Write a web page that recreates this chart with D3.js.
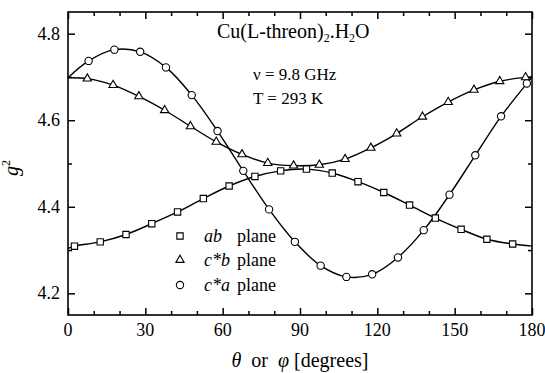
<!DOCTYPE html>
<html lang="en">
<head>
    <meta charset="UTF-8">
    <script src="https://cdn.jsdelivr.net/npm/d3@7"></script>
    <style>
        * { margin: 0; padding: 0; }
        body { background: #fff; }
    </style>
    <title>g2 vs angle</title>
</head>
<body>
    <script>
        // angles (degrees) and g^2 values
        const abAngle = [2.5, 12.5, 22.5, 32.5, 42.5, 52.5, 62.5, 72.5, 82.5, 92.5, 102.5, 112.5, 122.5, 132.5, 142.5, 152.5, 162.5, 172.5];
        const abG2 = [4.309, 4.319, 4.336, 4.361, 4.388, 4.419, 4.448, 4.470, 4.483, 4.487, 4.478, 4.458, 4.433, 4.404, 4.374, 4.348, 4.325, 4.314];

        const cbAngle = [7.5, 17.5, 27.5, 37.5, 47.5, 57.5, 67.5, 77.5, 87.5, 97.5, 107.5, 117.5, 127.5, 137.5, 147.5, 157.5, 167.5, 177.5];
        const cbG2 = [4.696, 4.681, 4.655, 4.623, 4.586, 4.550, 4.521, 4.501, 4.495, 4.497, 4.510, 4.536, 4.569, 4.608, 4.642, 4.670, 4.690, 4.699];

        const caAngle = [8, 18, 28, 38, 48, 58, 68, 78, 88, 98, 108, 118, 128, 138, 148, 158, 168, 178];
        const caG2 = [4.737, 4.763, 4.758, 4.722, 4.658, 4.575, 4.483, 4.394, 4.319, 4.264, 4.238, 4.244, 4.283, 4.346, 4.428, 4.519, 4.609, 4.685];

        // where the fitted curves meet the 0 and 180 degree edges
        const abEnds = [4.304, 4.309];
        const cbEnds = [4.698, 4.700];
        const caEnds = [4.698, 4.700];

        const xTicks = [0, 30, 60, 90, 120, 150, 180];
        const xMinor = [10, 20, 40, 50, 70, 80, 100, 110, 130, 140, 160, 170];
        const yTicks = [4.2, 4.4, 4.6, 4.8];
        const yMinor = [4.3, 4.5, 4.7];

        const width = 545;
        const height = 373;
        const margin = { top: 12, right: 13, bottom: 58, left: 68 };
        const serif = "'Liberation Serif'";

        const x = d3.scaleLinear().domain([0, 180]).range([margin.left, width - margin.right]);
        const y = d3.scaleLinear().domain([4.15, 4.85]).range([height - margin.bottom, margin.top]);

        const svg = d3.select("body").append("svg")
            .attr("width", width)
            .attr("height", height);

        const series = [
            { name: "ab", angle: abAngle, g2: abG2, ends: abEnds, symbol: d3.symbolSquare, size: 40 },
            { name: "cb", angle: cbAngle, g2: cbG2, ends: cbEnds, symbol: d3.symbolTriangle, size: 30 },
            { name: "ca", angle: caAngle, g2: caG2, ends: caEnds, symbol: d3.symbolCircle, size: 42 }
        ];

        const line = d3.line()
            .x(d => x(d[0]))
            .y(d => y(d[1]))
            .curve(d3.curveCatmullRom.alpha(0.5));

        const plot = svg.append("g");

        series.forEach(s => {
            let pts = s.angle.map((a, i) => [a, s.g2[i]]);
            pts = [[0, s.ends[0]]].concat(pts, [[180, s.ends[1]]]);
            plot.append("path")
                .attr("d", line(pts))
                .attr("fill", "none")
                .attr("stroke", "#000")
                .attr("stroke-width", 1.4);
        });

        series.forEach(s => {
            plot.selectAll("path.m-" + s.name)
                .data(s.angle.map((a, i) => [a, s.g2[i]]))
                .enter()
                .append("path")
                .classed("m-" + s.name, true)
                .attr("d", d3.symbol().type(s.symbol).size(s.size))
                .attr("transform", d => `translate(${x(d[0])},${y(d[1])})`)
                .attr("fill", "#fff")
                .attr("stroke", "#000")
                .attr("stroke-width", 1.1);
        });

        // axes: ticks point inward, mirrored on top and right
        const axisB = svg.append("g").attr("transform", `translate(0,${height - margin.bottom})`)
            .call(d3.axisBottom(x).tickValues(xTicks).tickSizeInner(-7).tickSizeOuter(0).tickFormat(""));
        const axisBm = svg.append("g").attr("transform", `translate(0,${height - margin.bottom})`)
            .call(d3.axisBottom(x).tickValues(xMinor).tickSizeInner(-4).tickSizeOuter(0).tickFormat(""));
        const axisT = svg.append("g").attr("transform", `translate(0,${margin.top})`)
            .call(d3.axisTop(x).tickValues(xTicks).tickSizeInner(-7).tickSizeOuter(0).tickFormat(""));
        const axisTm = svg.append("g").attr("transform", `translate(0,${margin.top})`)
            .call(d3.axisTop(x).tickValues(xMinor).tickSizeInner(-4).tickSizeOuter(0).tickFormat(""));
        const axisL = svg.append("g").attr("transform", `translate(${margin.left},0)`)
            .call(d3.axisLeft(y).tickValues(yTicks).tickSizeInner(-7).tickSizeOuter(0).tickFormat(""));
        const axisLm = svg.append("g").attr("transform", `translate(${margin.left},0)`)
            .call(d3.axisLeft(y).tickValues(yMinor).tickSizeInner(-4).tickSizeOuter(0).tickFormat(""));
        const axisR = svg.append("g").attr("transform", `translate(${width - margin.right},0)`)
            .call(d3.axisRight(y).tickValues(yTicks).tickSizeInner(-7).tickSizeOuter(0).tickFormat(""));
        const axisRm = svg.append("g").attr("transform", `translate(${width - margin.right},0)`)
            .call(d3.axisRight(y).tickValues(yMinor).tickSizeInner(-4).tickSizeOuter(0).tickFormat(""));

        [axisB, axisBm, axisT, axisTm, axisL, axisLm, axisR, axisRm].forEach(g => {
            g.select(".domain").remove();
            g.selectAll("text").remove();
            g.selectAll("line").attr("stroke", "#000").attr("stroke-width", 1.5);
        });

        // tick labels written as plain text, placed by the scales
        svg.append("g").selectAll("text")
            .data(xTicks)
            .enter()
            .append("text")
            .attr("x", d => x(d))
            .attr("y", height - margin.bottom + 21)
            .attr("text-anchor", "middle")
            .style("font-family", serif)
            .style("font-size", "18px")
            .text(d => d);

        svg.append("g").selectAll("text")
            .data(yTicks)
            .enter()
            .append("text")
            .attr("x", margin.left - 8)
            .attr("y", d => y(d) + 6)
            .attr("text-anchor", "end")
            .style("font-family", serif)
            .style("font-size", "18px")
            .text(d => d3.format(".1f")(d));

        svg.append("rect")
            .attr("x", margin.left)
            .attr("y", margin.top)
            .attr("width", width - margin.left - margin.right)
            .attr("height", height - margin.top - margin.bottom)
            .attr("fill", "none")
            .attr("stroke", "#000")
            .attr("stroke-width", 1.6);

        // annotations
        const title = svg.append("text").attr("x", 217).attr("y", 38)
            .style("font-family", serif).style("font-size", "20px");
        title.append("tspan").text("Cu(L-threon)");
        title.append("tspan").attr("dy", 4).style("font-size", "12px").text("2");
        title.append("tspan").attr("dy", -4).text(".H");
        title.append("tspan").attr("dy", 4).style("font-size", "12px").text("2");
        title.append("tspan").attr("dy", -4).text("O");

        svg.append("text").attr("x", 253).attr("y", 80)
            .style("font-family", serif).style("font-size", "17px").text("ν = 9.8 GHz");
        svg.append("text").attr("x", 253).attr("y", 104)
            .style("font-family", serif).style("font-size", "17px").text("T = 293 K");

        // legend
        const legend = [
            { s: series[0], label: "ab", y: 236 },
            { s: series[1], label: "c*b", y: 260 },
            { s: series[2], label: "c*a", y: 285 }
        ];
        legend.forEach(l => {
            svg.append("path")
                .attr("d", d3.symbol().type(l.s.symbol).size(l.s.size))
                .attr("transform", `translate(180,${l.y})`)
                .attr("fill", "#fff")
                .attr("stroke", "#000")
                .attr("stroke-width", 1.1);
            const t = svg.append("text").attr("x", 204).attr("y", l.y + 6)
                .style("font-family", serif).style("font-size", "18px");
            t.append("tspan").style("font-style", "italic").text(l.label);
            t.append("tspan").attr("x", 237).text("plane");
        });

        // axis titles
        const xt = svg.append("text")
            .attr("x", x(90))
            .attr("y", 367)
            .attr("text-anchor", "middle")
            .style("font-family", serif)
            .style("font-size", "20px")
            .style("white-space", "pre");
        xt.append("tspan").style("font-style", "italic").text("θ");
        xt.append("tspan").text("  or  ");
        xt.append("tspan").style("font-style", "italic").text("φ");
        xt.append("tspan").text(" [degrees]");

        const yt = svg.append("text")
            .attr("transform", "translate(18,168) rotate(-90)")
            .attr("text-anchor", "middle")
            .style("font-family", serif)
            .style("font-size", "20px");
        yt.append("tspan").style("font-style", "italic").text("g");
        yt.append("tspan").attr("dy", -8).style("font-size", "12px").text("2");
    </script>
</body>
</html>
